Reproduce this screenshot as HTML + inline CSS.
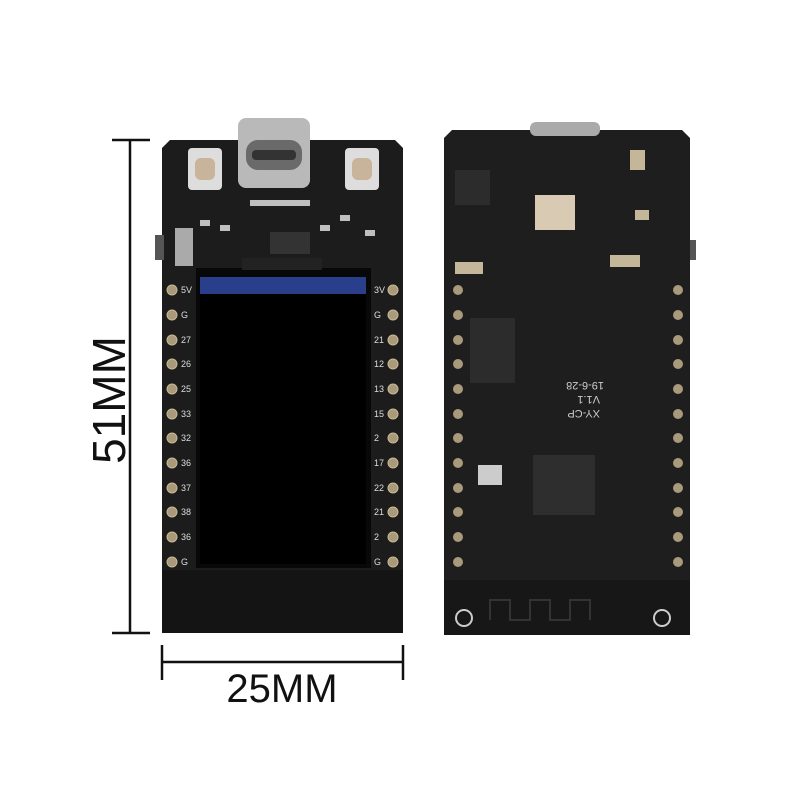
<!DOCTYPE html>
<html><head><meta charset="utf-8"><style>
html,body{margin:0;padding:0;background:#fff;}
body{width:800px;height:800px;position:relative;overflow:hidden;font-family:"Liberation Sans",sans-serif;}
</style></head><body>
<svg width="800" height="800" viewBox="0 0 800 800" xmlns="http://www.w3.org/2000/svg">
<!-- dimension lines -->
<g stroke="#111" stroke-width="2.5">
<line x1="130" y1="140" x2="130" y2="633"/>
<line x1="112" y1="140" x2="150" y2="140"/>
<line x1="112" y1="633" x2="150" y2="633"/>
<line x1="162" y1="662" x2="403" y2="662"/>
<line x1="162" y1="645" x2="162" y2="680"/>
<line x1="403" y1="645" x2="403" y2="680"/>
</g>
<text x="0" y="0" transform="translate(125,400) rotate(-90)" font-size="46" text-anchor="middle" fill="#111" font-family="Liberation Sans">51MM</text>
<text x="282" y="702" font-size="40" text-anchor="middle" fill="#111" font-family="Liberation Sans">25MM</text>

<!-- left board -->
<path d="M170 140 H395 L403 148 V633 H162 V148 Z" fill="#1c1c1c"/>
<rect x="155" y="235" width="9" height="25" fill="#555"/>
<rect x="162" y="570" width="241" height="63" fill="#141414"/>
<!-- usb c -->
<rect x="238" y="118" width="72" height="70" rx="8" fill="#b9b9b9"/>
<rect x="246" y="140" width="56" height="30" rx="12" fill="#6a6a6a"/>
<rect x="252" y="150" width="44" height="10" rx="4" fill="#333"/>
<!-- buttons -->
<rect x="188" y="148" width="34" height="42" rx="4" fill="#ddd"/>
<rect x="195" y="158" width="20" height="22" rx="6" fill="#c7b49a"/>
<rect x="345" y="148" width="34" height="42" rx="4" fill="#ddd"/>
<rect x="352" y="158" width="20" height="22" rx="6" fill="#c7b49a"/>
<rect x="175" y="228" width="18" height="38" fill="#aaa"/>
<rect x="270" y="232" width="40" height="22" fill="#333"/>
<g fill="#bfbfbf"><rect x="200" y="220" width="10" height="6"/><rect x="220" y="225" width="10" height="6"/><rect x="320" y="225" width="10" height="6"/><rect x="340" y="215" width="10" height="6"/><rect x="365" y="230" width="10" height="6"/><rect x="250" y="200" width="60" height="6"/></g>
<!-- screen -->
<rect x="196" y="268" width="175" height="300" fill="#080808"/>
<rect x="200" y="277" width="166" height="17" fill="#2a3f8c"/>
<rect x="200" y="294" width="166" height="270" fill="#000"/>
<rect x="242" y="258" width="80" height="12" fill="#222"/>
<!-- pins -->
<g fill="#a89a7a" stroke="#c9b993" stroke-width="1">
<circle cx="172" cy="290" r="5"/><circle cx="172" cy="315" r="5"/><circle cx="172" cy="340" r="5"/><circle cx="172" cy="364" r="5"/><circle cx="172" cy="389" r="5"/><circle cx="172" cy="414" r="5"/><circle cx="172" cy="438" r="5"/><circle cx="172" cy="463" r="5"/><circle cx="172" cy="488" r="5"/><circle cx="172" cy="512" r="5"/><circle cx="172" cy="537" r="5"/><circle cx="172" cy="562" r="5"/>
<circle cx="393" cy="290" r="5"/><circle cx="393" cy="315" r="5"/><circle cx="393" cy="340" r="5"/><circle cx="393" cy="364" r="5"/><circle cx="393" cy="389" r="5"/><circle cx="393" cy="414" r="5"/><circle cx="393" cy="438" r="5"/><circle cx="393" cy="463" r="5"/><circle cx="393" cy="488" r="5"/><circle cx="393" cy="512" r="5"/><circle cx="393" cy="537" r="5"/><circle cx="393" cy="562" r="5"/>
</g>
<g fill="#ddd" font-size="9" font-family="Liberation Sans">
<text x="181" y="293">5V</text><text x="181" y="318">G</text><text x="181" y="343">27</text><text x="181" y="367">26</text><text x="181" y="392">25</text><text x="181" y="417">33</text><text x="181" y="441">32</text><text x="181" y="466">36</text><text x="181" y="491">37</text><text x="181" y="515">38</text><text x="181" y="540">36</text><text x="181" y="565">G</text>
<text x="374" y="293">3V</text><text x="374" y="318">G</text><text x="374" y="343">21</text><text x="374" y="367">12</text><text x="374" y="392">13</text><text x="374" y="417">15</text><text x="374" y="441">2</text><text x="374" y="466">17</text><text x="374" y="491">22</text><text x="374" y="515">21</text><text x="374" y="540">2</text><text x="374" y="565">G</text>
</g>

<!-- right board -->
<path d="M452 130 H682 L690 138 V635 H444 V138 Z" fill="#1e1e1e"/>
<rect x="690" y="240" width="6" height="20" fill="#555"/>
<rect x="444" y="580" width="246" height="55" fill="#171717"/>
<rect x="530" y="122" width="70" height="14" rx="6" fill="#aaa"/>
<rect x="455" y="170" width="35" height="35" fill="#2c2c2c"/>
<rect x="535" y="195" width="40" height="35" fill="#d9cbb3"/>
<rect x="470" y="318" width="45" height="65" fill="#2c2c2c"/>
<rect x="533" y="455" width="62" height="60" fill="#2e2e2e"/>
<rect x="478" y="465" width="24" height="20" fill="#ccc"/>
<g fill="#c4b698"><rect x="455" y="262" width="28" height="12"/><rect x="610" y="255" width="30" height="12"/><rect x="630" y="150" width="15" height="20"/><rect x="635" y="210" width="14" height="10"/></g>
<g fill="#a89a7a">
<circle cx="458" cy="290" r="5"/><circle cx="458" cy="315" r="5"/><circle cx="458" cy="340" r="5"/><circle cx="458" cy="364" r="5"/><circle cx="458" cy="389" r="5"/><circle cx="458" cy="414" r="5"/><circle cx="458" cy="438" r="5"/><circle cx="458" cy="463" r="5"/><circle cx="458" cy="488" r="5"/><circle cx="458" cy="512" r="5"/><circle cx="458" cy="537" r="5"/><circle cx="458" cy="562" r="5"/>
<circle cx="678" cy="290" r="5"/><circle cx="678" cy="315" r="5"/><circle cx="678" cy="340" r="5"/><circle cx="678" cy="364" r="5"/><circle cx="678" cy="389" r="5"/><circle cx="678" cy="414" r="5"/><circle cx="678" cy="438" r="5"/><circle cx="678" cy="463" r="5"/><circle cx="678" cy="488" r="5"/><circle cx="678" cy="512" r="5"/><circle cx="678" cy="537" r="5"/><circle cx="678" cy="562" r="5"/>
</g>
<circle cx="464" cy="618" r="8" fill="none" stroke="#ccc" stroke-width="2"/>
<circle cx="662" cy="618" r="8" fill="none" stroke="#ccc" stroke-width="2"/>
<path d="M490 620 V600 H510 V620 H530 V600 H550 V620 H570 V600 H590 V620" fill="none" stroke="#333" stroke-width="2"/>
<g fill="#ccc" font-size="11" transform="rotate(180 580 400)"><text x="560" y="390">XY-CP</text><text x="560" y="404">V1.1</text><text x="556" y="418">19-6-28</text></g>
</svg>
</body></html>
